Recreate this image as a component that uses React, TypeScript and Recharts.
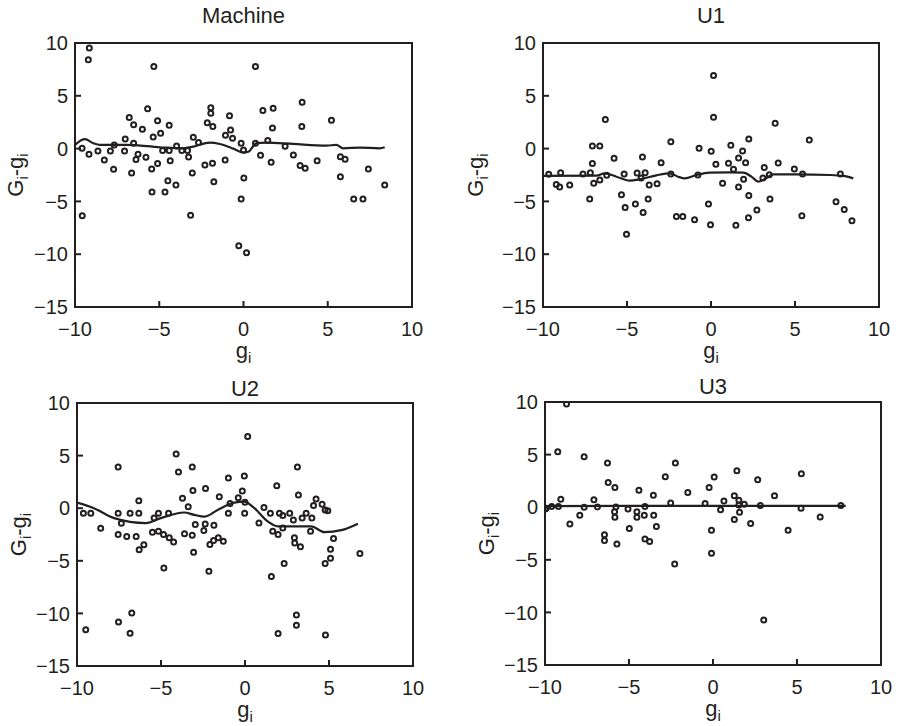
import { ComposedChart, Scatter, Line, XAxis, YAxis, ReferenceArea } from "recharts";

const INK = "#231f20";
const FONT = "'Liberation Sans', Arial, Helvetica, sans-serif";

const xTicks = [-10, -5, 0, 5, 10];
const yTicks = [-15, -10, -5, 0, 5, 10];

const machinePts = [
  [-9.58, 0.03], [-9.17, -0.54], [-9.57, -6.36], [-9.15, 9.53], [-9.21, 8.42],
  [-8.64, -0.22], [-8.26, -1.08], [-7.9, -0.22], [-7.67, 0.35], [-7.71, -1.96],
  [-7.02, 0.92], [-7.06, -0.22], [-6.78, 2.94], [-6.52, 2.25], [-6.52, 0.51],
  [-6.64, -2.31], [-6.26, -0.54], [-6.38, -1.04], [-6.0, 1.84], [-5.69, 3.77],
  [-5.79, -0.82], [-5.45, -1.93], [-5.43, -4.11], [-5.36, 1.11], [-5.32, 7.78],
  [-5.1, 2.63], [-4.92, 1.46], [-5.1, -1.42], [-4.8, -0.19], [-4.66, -4.11],
  [-4.49, -3.04], [-4.41, 2.22], [-4.41, -0.19], [-4.35, -1.14], [-4.01, -3.45],
  [-3.97, 0.25], [-3.66, -0.19], [-3.32, -0.19], [-3.26, -0.79], [-3.14, -6.3],
  [-3.04, -2.31], [-2.98, 1.08], [-2.67, 0.57], [-2.29, -1.55], [-2.15, 2.44],
  [-1.94, 3.86], [-1.94, 3.35], [-1.82, 2.09], [-1.84, -1.39], [-1.76, -3.13],
  [-1.09, -1.08], [-1.07, 1.27], [-0.83, 3.1], [-0.77, 1.77], [-0.65, 0.98],
  [-0.14, 0.51], [0.0, -0.13], [0.02, -2.78], [-0.14, -4.78], [-0.28, -9.21],
  [0.18, -9.87], [0.71, 7.78], [0.71, 0.51], [1.01, -0.63], [1.15, 3.61],
  [1.44, 0.76], [1.64, -1.3], [1.76, 3.83], [1.72, 1.96], [2.47, 0.22],
  [2.96, -0.6], [3.36, -1.61], [3.48, 4.4], [3.46, 2.09], [3.66, -1.87],
  [4.37, -1.14], [5.22, 2.69], [5.75, -0.76], [6.03, -1.01], [5.75, -2.66],
  [6.54, -4.78], [7.09, -4.78], [7.41, -1.93], [8.38, -3.45],
];
const machineCurve = [
  [-10, 0.35], [-9.41, 0.89], [-8.91, 0.51], [-8.52, 0.35], [-6.94, 0.35],
  [-4.96, 0.13], [-3.58, 0.03], [-2.98, 0.19], [-2.0, 0.57], [-1.4, 0.44],
  [-0.61, 0], [-0.02, -0.38], [0.28, -0.3], [0.77, 0.51], [1.36, 0.57],
  [2.94, 0.44], [4.92, 0.29], [5.51, 0.35], [5.91, 0.03], [6.9, 0.1],
  [8.08, 0.03], [8.38, 0.13],
];

const u1Pts = [
  [-9.66, -2.44], [-9.21, -3.39], [-8.95, -2.28], [-9.01, -3.64], [-8.41, -3.45],
  [-7.62, -2.41], [-7.18, -2.28], [-7.06, 0.25], [-7.06, -1.42], [-6.98, -3.29],
  [-6.62, 0.25], [-6.62, -2.97], [-7.22, -4.78], [-6.29, 2.75], [-6.21, -2.53],
  [-5.77, -0.92], [-5.33, -4.37], [-5.17, -2.41], [-5.11, -5.57], [-5.03, -8.1],
  [-4.5, -5.25], [-4.4, -2.31], [-4.08, -0.79], [-4.16, -2.78], [-4.04, -6.04],
  [-3.92, -2.28], [-3.74, -4.78], [-3.68, -3.45], [-3.21, -3.32], [-2.97, -1.33],
  [-2.39, 0.66], [-2.39, -2.41], [-2.06, -6.42], [-1.68, -6.42], [-0.98, -6.74],
  [-0.78, -2.5], [-0.71, 0.03], [-0.15, -5.25], [-0.03, -7.22], [0.01, -0.25],
  [0.15, 6.93], [0.15, 2.97], [0.29, -1.49], [0.69, -3.29], [1.04, -1.39],
  [1.18, 0.32], [1.34, -1.96], [1.48, -7.25], [1.64, -0.89], [1.64, -3.64],
  [1.88, -0.22], [1.94, -2.91], [2.06, -1.33], [2.25, 0.92], [2.25, -4.43],
  [2.23, -6.55], [2.73, -5.82], [3.09, -2.78], [3.17, -1.8], [3.47, -2.47],
  [3.51, -4.78], [3.82, 2.41], [4.0, -1.36], [4.96, -1.93], [5.45, -2.41],
  [5.41, -6.36], [5.85, 0.82], [7.44, -5.03], [7.7, -2.41], [7.93, -5.76],
  [8.39, -6.84],
];
const u1Curve = [
  [-10, -2.59], [-6.82, -2.56], [-6.33, -2.34], [-5.63, -2.66], [-4.84, -3.04],
  [-4.24, -2.91], [-3.25, -2.53], [-2.45, -2.34], [-1.96, -2.66], [-1.56, -2.82],
  [-0.86, -2.5], [-0.07, -2.28], [1.12, -2.25], [1.92, -2.28], [2.41, -2.66],
  [2.81, -3.13], [3.21, -2.88], [3.7, -2.44], [5.09, -2.44], [7.08, -2.5],
  [7.87, -2.59], [8.47, -2.82],
];

const u2Pts = [
  [-9.62, -0.47], [-9.18, -0.47], [-9.48, -11.56], [-8.59, -1.91], [-7.55, 3.91],
  [-7.55, -0.47], [-7.55, -2.5], [-7.53, -10.81], [-7.36, -1.44], [-7.04, -2.69],
  [-6.84, -0.47], [-6.74, -9.97], [-6.84, -11.88], [-6.48, -2.69], [-6.32, 0.72],
  [-6.32, -0.47], [-6.3, -3.94], [-6.02, -3.47], [-5.51, -2.28], [-5.41, -0.94],
  [-5.15, -0.47], [-5.15, -2.19], [-4.85, -2.5], [-4.83, -5.69], [-4.55, -0.47],
  [-4.51, -2.81], [-4.25, -3.22], [-4.1, 5.16], [-3.96, 3.44], [-3.72, 0.94],
  [-3.6, -2.44], [-3.38, 0.13], [-3.14, 3.91], [-3.1, 1.69], [-3.14, -2.56],
  [-3.06, -4.19], [-2.96, -1.56], [-2.45, -2.13], [-2.37, -1.5], [-2.35, 1.88],
  [-2.15, -6.0], [-2.09, -3.44], [-1.87, -3.06], [-1.85, -1.63], [-1.59, -2.81],
  [-1.53, 1.09], [-1.29, -3.13], [-0.99, 2.88], [-0.99, -0.47], [-0.89, 0.44],
  [-0.4, 1.0], [-0.16, 1.63], [-0.04, 3.06], [-0.02, -0.47], [0.0, 0.56],
  [0.16, 6.81], [0.83, -1.41], [1.13, 0.06], [1.51, -0.47], [1.57, -6.5],
  [1.65, -2.19], [1.89, 2.13], [1.97, -2.5], [1.97, -11.9], [2.05, -0.47],
  [2.25, -0.69], [2.25, -1.88], [2.33, -5.25], [2.66, -0.47], [2.88, -1.13],
  [2.94, -2.81], [2.96, -3.31], [3.06, -10.16], [3.06, -11.13], [3.12, 3.91],
  [3.18, 1.25], [3.3, -3.66], [3.4, -0.94], [3.64, -0.47], [3.9, -2.19],
  [3.98, -0.94], [4.08, 0.25], [4.23, 0.88], [4.59, 0.38], [4.77, -0.16],
  [4.93, -0.25], [4.77, -5.25], [4.79, -12.06], [5.09, -3.91], [5.09, -4.75],
  [5.27, -2.88], [6.84, -4.31],
];
const u2Curve = [
  [-10, 0.53], [-8.99, 0], [-7.79, -0.94], [-5.9, -1.41], [-5.01, -0.94],
  [-3.62, -0.41], [-3.02, -0.63], [-2.43, -0.81], [-1.63, -0.16], [-0.64, 0.53],
  [-0.04, 0.63], [0.56, 0], [1.35, -1.25], [1.95, -1.72], [2.94, -1.72],
  [3.94, -1.72], [4.73, -2.28], [5.73, -2.09], [6.72, -1.47],
];

const u3Pts = [
  [-10, -0.16], [-9.93, -0.1], [-9.6, 0.06], [-9.2, 0.06], [-9.24, 5.27],
  [-9.06, 0.76], [-8.72, 9.81], [-8.52, -1.59], [-7.93, -0.76], [-7.67, 4.79],
  [-7.67, 0], [-7.09, 0.7], [-6.88, 0.03], [-6.46, -2.63], [-6.46, -3.17],
  [-6.28, 4.19], [-6.24, 2.35], [-5.84, 1.87], [-5.78, 0.03], [-5.86, -0.44],
  [-5.84, -0.95], [-5.72, -3.49], [-5.06, -0.16], [-4.98, -2.03], [-4.41, 1.62],
  [-4.53, -0.44], [-4.53, -0.95], [-4.09, -0.76], [-4.05, 0.06], [-4.05, -3.02],
  [-3.77, -3.27], [-3.55, 1.14], [-3.53, -0.76], [-3.37, -1.84], [-2.84, 2.89],
  [-2.52, 0.41], [-2.24, 4.19], [-2.28, -5.4], [-1.5, 1.4], [-0.47, 0.35],
  [-0.23, 1.87], [-0.09, -2.19], [-0.09, -4.38], [0.07, 2.86], [0.45, -0.25],
  [0.65, 0.6], [1.27, 1.08], [1.27, -1.17], [1.42, 3.46], [1.54, 0.67],
  [1.54, 0.22], [1.58, -0.48], [1.86, 0.29], [2.24, -1.56], [2.66, 2.6],
  [2.82, 0.16], [3.02, -10.73], [3.66, 1.08], [4.47, -2.19], [5.26, 3.17],
  [5.24, -0.1], [6.38, -0.92], [7.61, 0.16],
];
const u3Curve = [
  [-10, 0.1], [-5, 0.12], [0, 0.12], [5, 0.13], [7.9, 0.13],
];

const toRows = (arr: number[][]) => arr.map(([x, y]) => ({ x, y }));
const fmt = (v: number) => (v < 0 ? `\u2212${Math.abs(v)}` : `${v}`);

const Ring = (props: any) => {
  const { cx, cy } = props;
  if (cx == null || cy == null) return null;
  return <circle cx={cx} cy={cy} r={2.5} fill="none" stroke={INK} strokeWidth={2} />;
};

function YLab({ viewBox, dx }: any) {
  const { x, y, height } = viewBox;
  const tx = x + dx;
  const ty = y + height / 2;
  return (
    <text
      x={tx}
      y={ty}
      transform={`rotate(-90 ${tx} ${ty})`}
      textAnchor="middle"
      fontSize={22}
      fontFamily={FONT}
      fill={INK}
    >
      G<tspan dy={5} fontSize={15}>i</tspan>
      <tspan dy={-5}>-g</tspan>
      <tspan dy={5} fontSize={15}>i</tspan>
    </text>
  );
}

function XLab({ viewBox }: any) {
  const { x, y, width } = viewBox;
  return (
    <text x={x + width / 2} y={y + 51} textAnchor="middle" fontSize={22} fontFamily={FONT} fill={INK}>
      g<tspan dy={5} fontSize={15}>i</tspan>
    </text>
  );
}

const panels = [
  { title: "Machine", pts: machinePts, curve: machineCurve, plotLeft: 75, plotTop: 43, plotW: 337, plotH: 264, titleTop: 5, yGap: 52 },
  { title: "U1", pts: u1Pts, curve: u1Curve, plotLeft: 543, plotTop: 43, plotW: 336, plotH: 264, titleTop: 5, yGap: 60 },
  { title: "U2", pts: u2Pts, curve: u2Curve, plotLeft: 77, plotTop: 403, plotW: 336, plotH: 263, titleTop: 378, yGap: 51 },
  { title: "U3", pts: u3Pts, curve: u3Curve, plotLeft: 545, plotTop: 402, plotW: 336, plotH: 263, titleTop: 376, yGap: 51 },
];

const Y_W = 95;
const M_TOP = 10;
const X_H = 60;
const M_RIGHT = 18;

function Panel({ p }: { p: (typeof panels)[number] }) {
  const w = Y_W + p.plotW + M_RIGHT;
  const h = M_TOP + p.plotH + X_H;
  const tickStyle = { fontSize: 20, fontFamily: FONT, fill: INK };
  return (
    <>
      <div
        style={{
          position: "absolute",
          left: p.plotLeft + p.plotW / 2 - 100,
          top: p.titleTop,
          width: 200,
          textAlign: "center",
          fontFamily: FONT,
          fontSize: 22,
          lineHeight: "22px",
          color: INK,
        }}
      >
        {p.title}
      </div>
      <div style={{ position: "absolute", left: p.plotLeft - Y_W, top: p.plotTop - M_TOP }}>
        <ComposedChart width={w} height={h} margin={{ top: M_TOP, right: M_RIGHT, bottom: 0, left: 0 }}>
          <XAxis
            type="number"
            dataKey="x"
            domain={[-10, 10]}
            ticks={xTicks}
            interval={0}
            allowDataOverflow
            height={X_H}
            tickSize={-6}
            tickMargin={21}
            tickFormatter={fmt}
            tick={tickStyle}
            axisLine={{ stroke: INK, strokeWidth: 2 }}
            tickLine={{ stroke: INK, strokeWidth: 2 }}
            label={{ content: (lp: any) => <XLab {...lp} /> }}
          />
          <YAxis
            type="number"
            dataKey="y"
            domain={[-15, 10]}
            ticks={yTicks}
            interval={0}
            allowDataOverflow
            width={Y_W}
            tickSize={-6}
            tickMargin={13}
            tickFormatter={fmt}
            tick={tickStyle}
            axisLine={{ stroke: INK, strokeWidth: 2 }}
            tickLine={{ stroke: INK, strokeWidth: 2 }}
            label={{ content: (lp: any) => <YLab {...lp} dx={Y_W - p.yGap} /> }}
          />
          <ReferenceArea x1={-10} x2={10} y1={-15} y2={10} fill="none" stroke={INK} strokeWidth={2} />
          <Line
            data={toRows(p.curve)}
            dataKey="y"
            type="monotone"
            dot={false}
            activeDot={false}
            stroke={INK}
            strokeWidth={2.2}
            isAnimationActive={false}
          />
          <Scatter data={toRows(p.pts)} dataKey="y" shape={Ring} isAnimationActive={false} />
        </ComposedChart>
      </div>
    </>
  );
}

export default function App() {
  return (
    <div
      style={{
        position: "absolute",
        left: 0,
        top: 0,
        width: 899,
        height: 726,
        overflow: "hidden",
        background: "#fff",
      }}
    >
      {panels.map((p) => (
        <Panel key={p.title} p={p} />
      ))}
    </div>
  );
}
